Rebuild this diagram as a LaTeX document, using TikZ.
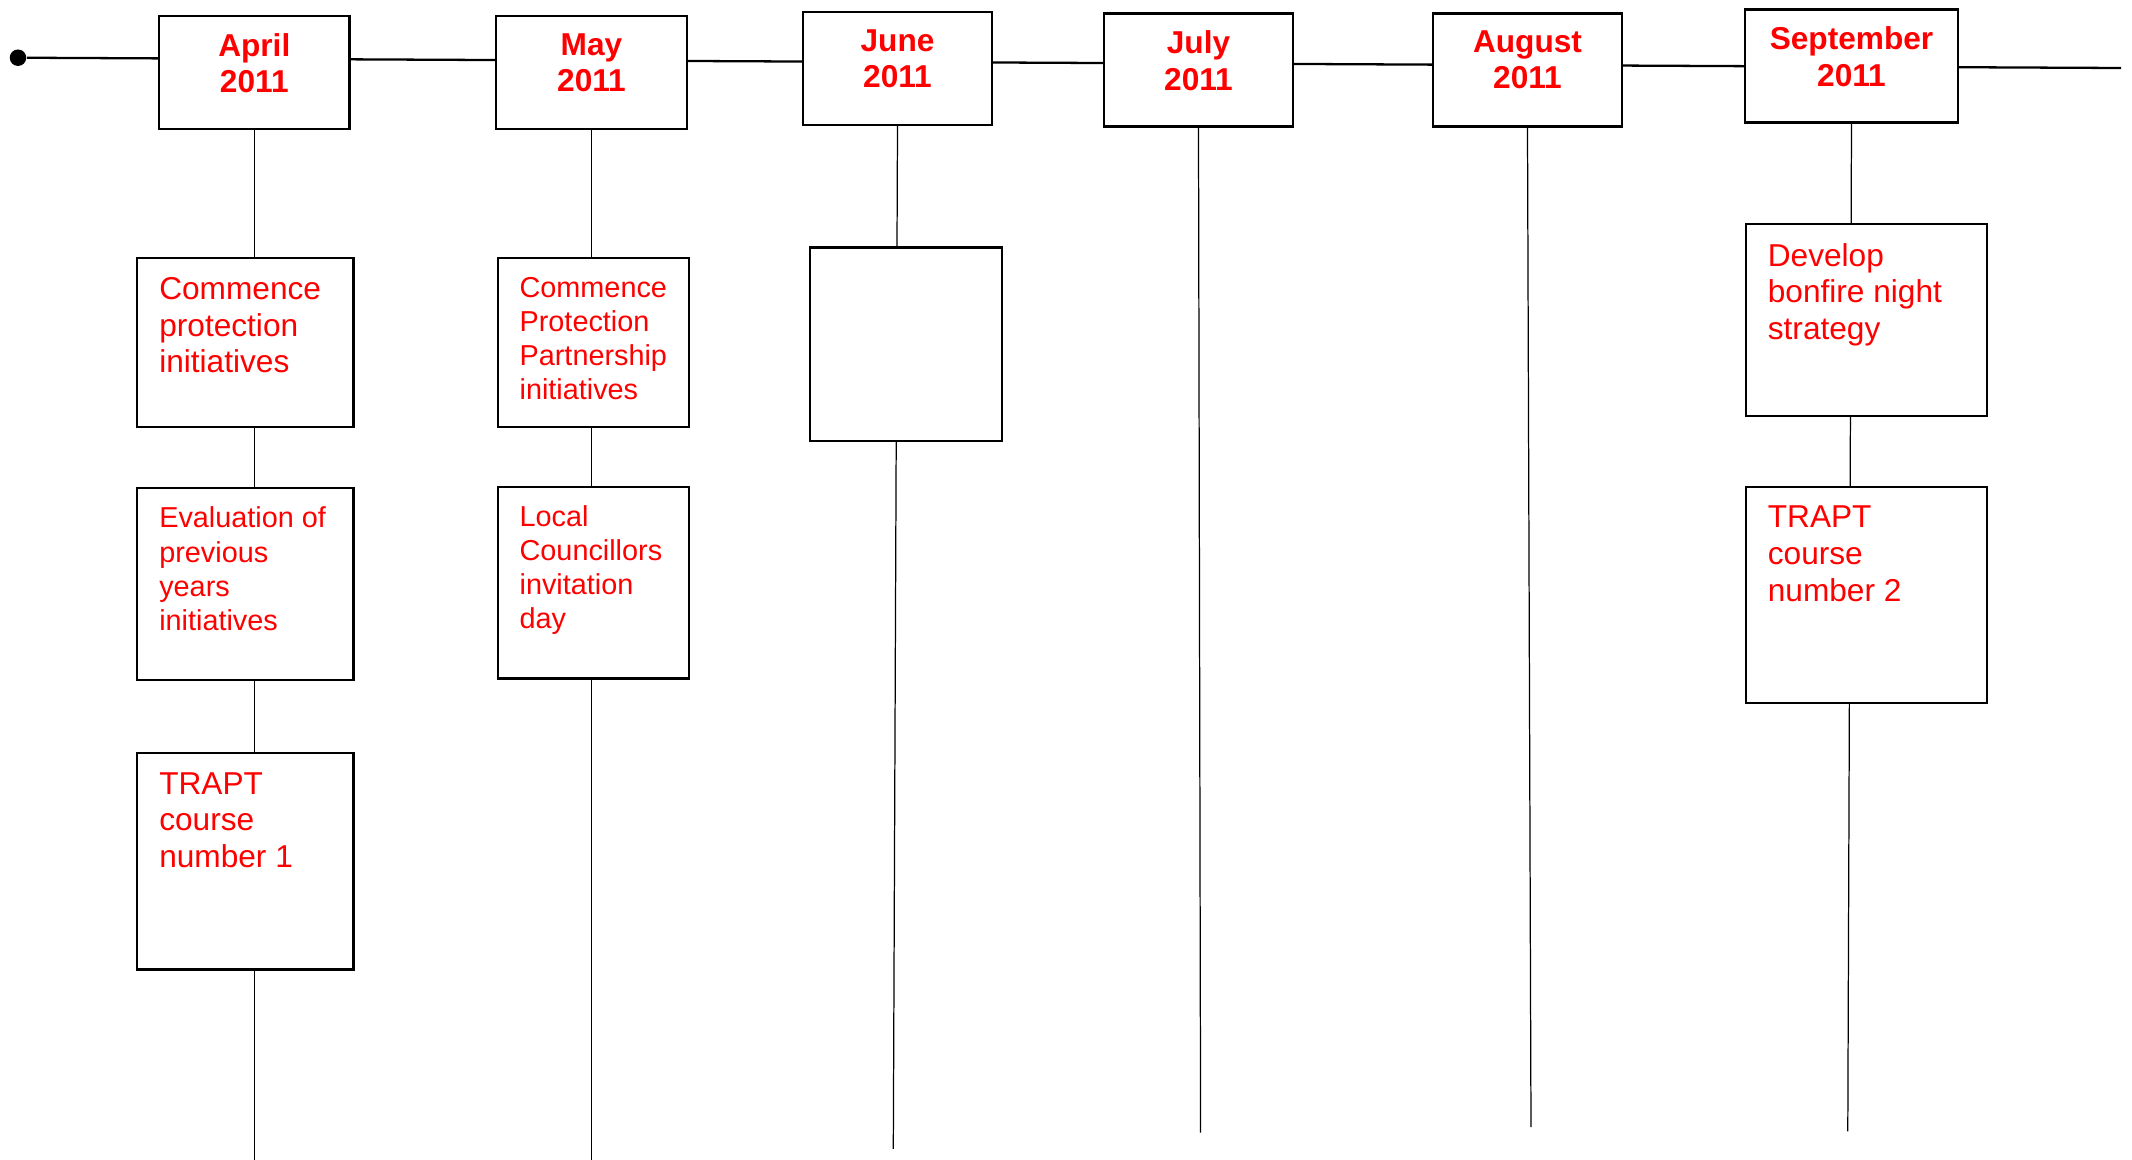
\documentclass[tikz,border=0pt]{standalone}
\usepackage{fontspec}
\setmainfont{Liberation Sans}
\newcommand{\montext}[3]{\parbox[c][#2cm][t]{#1cm}{\vspace*{0.17cm}\centering #3}}
\newcommand{\evtext}[3]{\parbox[c][#2cm][t]{#1cm}{\vspace*{0.19cm}\raggedright\leftskip=0.22cm \mbox{}#3}}

\begin{document}
\begin{tikzpicture}[
    month/.style={draw, line width=0.6pt, fill=white, inner sep=0pt, text=red, font=\bfseries\fontsize{9}{10.4}\selectfont},
    event/.style={draw, line width=0.6pt, fill=white, inner sep=0pt, text=red, font=\fontsize{9}{10.45}\selectfont},
    eventsm/.style={event, font=\fontsize{8.2}{9.7}\selectfont},
    stem/.style={line width=0.35pt},
    axis/.style={line width=0.65pt}
  ]
  \useasboundingbox (0,0) rectangle (21.32,-11.60);

  \node[circle, fill, inner sep=0pt, minimum size=0.165cm] (start) at (0.18,-0.577) {};
  \coordinate (end) at (21.21,-0.680);
  \draw[axis] (start) -- (end);

  \node[month] (apr) at (2.543,-0.727) {\montext{1.904}{1.129}{April\\2011}};
  \node[month] (may) at (5.915,-0.727) {\montext{1.904}{1.129}{May\\2011}};
  \node[month] (jun) at (8.975,-0.687) {\montext{1.890}{1.129}{June\\2011}};
  \node[month] (jul) at (11.985,-0.700) {\montext{1.890}{1.129}{July\\2011}};
  \node[month] (aug) at (15.275,-0.700) {\montext{1.890}{1.129}{August\\2011}};
  \node[month] (sep) at (18.515,-0.660) {\montext{2.135}{1.129}{September\\2011}};

  \coordinate (aprend) at (2.543,-11.60);
  \coordinate (mayend) at (5.915,-11.60);
  \coordinate (junend) at (8.933,-11.489);
  \coordinate (julend) at (12.006,-11.326);
  \coordinate (augend) at (15.310,-11.272);
  \coordinate (sepend) at (18.478,-11.313);
  \draw[stem] (apr.south) -- (aprend);
  \draw[stem] (may.south) -- (mayend);
  \draw[stem] (jun.south) -- (junend);
  \draw[stem] (jul.south) -- (julend);
  \draw[stem] (aug.south) -- (augend);
  \draw[stem] (sep.south) -- (sepend);

  \node[event] (apr1) at (2.454,-3.426) {\evtext{2.162}{1.686}{Commence\\protection\\initiatives}};
  \node[eventsm] (apr2) at (2.454,-5.840) {\evtext{2.162}{1.918}{Evaluation of\\previous\\years\\initiatives}};
  \node[event] (apr3) at (2.454,-8.614) {\evtext{2.162}{2.162}{TRAPT\\course\\number 1}};

  \node[eventsm] (may1) at (5.935,-3.426) {\evtext{1.917}{1.686}{Commence\\Protection\\Partnership\\initiatives}};
  \node[eventsm] (may2) at (5.935,-5.826) {\evtext{1.917}{1.917}{Local\\Councillors\\invitation\\day}};

  \node[event] (jun1) at (9.062,-3.440) {\evtext{1.917}{1.931}{}};

  \node[event] (sep1) at (18.662,-3.202) {\evtext{2.407}{1.918}{Develop\\bonfire night\\strategy}};
  \node[event] (sep2) at (18.662,-5.949) {\evtext{2.407}{2.162}{TRAPT\\course\\number 2}};
\end{tikzpicture}
\end{document}
